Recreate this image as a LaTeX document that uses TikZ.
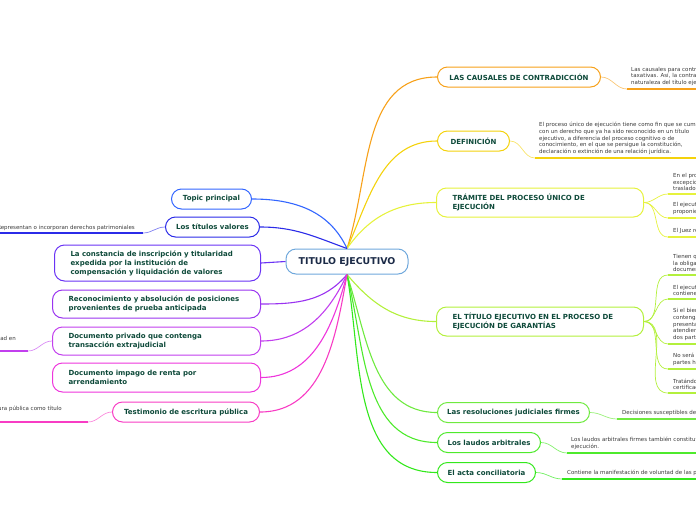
\documentclass[tikz,border=0pt]{standalone}
\usepackage{fontspec}
\setmainfont{DejaVu Sans}

\definecolor{rootblue}{HTML}{6FA8DC}
\definecolor{roottext}{HTML}{1B2A47}
\definecolor{nodetext}{HTML}{0E4A3A}
\definecolor{notetext}{HTML}{3A3A3A}
\definecolor{cOrange}{HTML}{F7A11A}
\definecolor{cGold}{HTML}{F4D20C}
\definecolor{cYellow}{HTML}{E6F23C}
\definecolor{cLime}{HTML}{B3F03C}
\definecolor{cGreenA}{HTML}{6FEA40}
\definecolor{cGreenB}{HTML}{4EEA2C}
\definecolor{cGreenC}{HTML}{33E81C}
\definecolor{cBlue}{HTML}{3366FF}
\definecolor{cDeepBlue}{HTML}{2B2BE8}
\definecolor{cIndigo}{HTML}{6A33F5}
\definecolor{cViolet}{HTML}{9A33F0}
\definecolor{cOrchid}{HTML}{C23FEE}
\definecolor{cMagenta}{HTML}{EE35DC}
\definecolor{cPink}{HTML}{F83CC4}

\begin{document}
\begin{tikzpicture}[x=1pt, y=1pt,
    topic/.style={draw, rounded corners=10, fill=white, line width=1pt, text=nodetext,
        font=\fontsize{7}{9}\selectfont\bfseries, inner xsep=0pt, inner ysep=0pt, minimum height=20},
    multi/.style={topic, align=left, inner xsep=16pt},
    conn/.style={line width=1.1pt},
    subconn/.style={line width=0.7pt},
    uline/.style={line width=1.6pt},
    note/.style={font=\fontsize{5.5}{6.7}\selectfont, text=notetext, inner sep=0pt, align=left}]
    \useasboundingbox (0,0) rectangle (696,-520);
    \clip (0,0) rectangle (696,-520);

    % central topic
    \node[topic, draw=rootblue, minimum width=122, minimum height=25, text=roottext,
        font=\fontsize{9.4}{11}\selectfont\bfseries] (root) at (347,-261.5) {TITULO EJECUTIVO};

    % right branches
    \node[topic, draw=cOrange, anchor=west, minimum width=163] (causal) at (437,-77) {LAS CAUSALES DE CONTRADICCIÓN};
    \node[topic, draw=cGold, anchor=west, minimum width=72] (defin) at (437,-141) {DEFINICIÓN};
    \node[multi, draw=cYellow, anchor=west, text width=175, minimum height=29] (tramite) at (436,-202.5)
        {TRÁMITE DEL PROCESO ÚNICO DE\\EJECUCIÓN};
    \node[multi, draw=cLime, anchor=west, text width=175, minimum height=29] (titulo) at (436,-321.5)
        {EL TÍTULO EJECUTIVO EN EL PROCESO DE\\EJECUCIÓN DE GARANTÍAS};
    \node[topic, draw=cGreenA, anchor=west, minimum width=152] (resol) at (437,-412.5) {Las resoluciones judiciales firmes};
    \node[topic, draw=cGreenB, anchor=west, minimum width=103] (laudos) at (437,-442.5) {Los laudos arbitrales};
    \node[topic, draw=cGreenC, anchor=west, minimum width=98] (acta) at (437,-472.5) {El acta conciliatoria};

    % left branches
    \node[topic, draw=cBlue, anchor=east, minimum width=80] (principal) at (252,-199) {Topic principal};
    \node[topic, draw=cDeepBlue, anchor=east, minimum width=94] (valores) at (260,-227) {Los títulos valores};
    \node[multi, draw=cIndigo, anchor=east, text width=174, minimum height=36] (constancia) at (261,-263)
        {La constancia de inscripción y titularidad\\expedida por la institución de\\compensación y liquidación de valores};
    \node[multi, draw=cViolet, anchor=east, text width=176, minimum height=28] (reconoc) at (261,-304)
        {Reconocimiento y absolución de posiciones\\provenientes de prueba anticipada};
    \node[multi, draw=cOrchid, anchor=east, text width=176, minimum height=28] (docpriv) at (261,-341)
        {Documento privado que contenga\\transacción extrajudicial};
    \node[multi, draw=cMagenta, anchor=east, text width=176, minimum height=29] (impago) at (261,-377.5)
        {Documento impago de renta por\\arrendamiento};
    \node[topic, draw=cPink, anchor=east, minimum width=147] (testim) at (260,-412) {Testimonio de escritura pública};

    % connectors from the centre
    \draw[conn, cOrange] (root.north) to[out=72, in=180] (causal.west);
    \draw[conn, cGold] (root.north) to[out=66, in=180] (defin.west);
    \draw[conn, cYellow] (root.north) to[out=55, in=180] (tramite.west);
    \draw[conn, cLime] (root.south) to[out=-50, in=180] (titulo.west);
    \draw[conn, cGreenA] (root.south) to[out=-72, in=180] (resol.west);
    \draw[conn, cGreenB] (root.south) to[out=-76, in=180] (laudos.west);
    \draw[conn, cGreenC] (root.south) to[out=-80, in=180] (acta.west);
    \draw[conn, cBlue] (root.north) to[out=115, in=0] (principal.east);
    \draw[conn, cDeepBlue] (root.north) to[out=160, in=0] (valores.east);
    \draw[conn, cIndigo] (root.west) -- (constancia.east);
    \draw[conn, cViolet] (root.south) to[out=-130, in=0] (reconoc.east);
    \draw[conn, cOrchid] (root.south) to[out=-115, in=0] (docpriv.east);
    \draw[conn, cMagenta] (root.south) to[out=-105, in=0] (impago.east);
    \draw[conn, cPink] (root.south) to[out=-100, in=0] (testim.east);

    % notes on the right
    \coordinate (causalu) at (627,-89);
    \draw[subconn, cOrange!60] (causal.east) to[out=0, in=180] (causalu);
    \draw[uline, cOrange] (causalu) -- ++(80,0);
    \node[note, anchor=south west] (causaltxt) at (631,-86)
        {Las causales para contradecir\\taxativas. Así, la contradicción\\naturaleza del título ejecutivo};

    \coordinate (definu) at (535,-158);
    \draw[subconn, cGold!60] (defin.east) to[out=0, in=180] (definu);
    \draw[uline, cGold] (definu) -- ++(170,0);
    \node[note, anchor=south west] (defintxt) at (539,-155)
        {El proceso único de ejecución tiene como fin que se cumpla\\con un derecho que ya ha sido reconocido en un título\\ejecutivo, a diferencia del proceso cognitivo o de\\conocimiento, en el que se persigue la constitución,\\declaración o extinción de una relación jurídica.};

    \coordinate (tramu1) at (668,-194);
    \coordinate (tramu2) at (668,-218);
    \coordinate (tramu3) at (668,-237);
    \foreach \u in {tramu1,tramu2,tramu3}{
        \draw[subconn, cYellow] (tramite.east) to[out=0, in=180] (\u);
        \draw[uline, cYellow] (\u) -- ++(40,0);
    }
    \node[note, anchor=south west] (tramtxt1) at (673,-191) {En el proceso\\excepciones\\traslado};
    \node[note, anchor=south west] (tramtxt2) at (673,-215) {El ejecutado\\proponiendo};
    \node[note, anchor=south west] (tramtxt3) at (673,-234) {El Juez resolverá};

    \coordinate (titu1) at (668,-275);
    \coordinate (titu2) at (668,-299);
    \coordinate (titu3) at (668,-344);
    \coordinate (titu4) at (668,-369);
    \coordinate (titu5) at (668,-393);
    \foreach \u in {titu1,titu2,titu3,titu4,titu5}{
        \draw[subconn, cLime] (titulo.east) to[out=0, in=180] (\u);
        \draw[uline, cLime] (\u) -- ++(40,0);
    }
    \node[note, anchor=south west] (tittxt1) at (673,-272) {Tienen que\\la obligación\\documento};
    \node[note, anchor=south west] (tittxt2) at (673,-296) {El ejecutante\\contiene};
    \node[note, anchor=south west] (tittxt3) at (673,-341) {Si el bien\\contenga\\presenta\\atendiendo\\dos partes};
    \node[note, anchor=south west] (tittxt4) at (673,-366) {No será\\partes hayan};
    \node[note, anchor=south west] (tittxt5) at (673,-390) {Tratándose\\certificado};

    \coordinate (resolu) at (617,-419);
    \draw[subconn, cGreenA!70] (resol.east) to[out=0, in=180] (resolu);
    \draw[uline, cGreenA] (resolu) -- ++(90,0);
    \node[note, anchor=south west] (resoltxt) at (622,-416) {Decisiones susceptibles de ejecución};

    \coordinate (laudosu) at (567,-453);
    \draw[subconn, cGreenB!70] (laudos.east) to[out=0, in=180] (laudosu);
    \draw[uline, cGreenB] (laudosu) -- ++(140,0);
    \node[note, anchor=south west] (laudostxt) at (571,-450)
        {Los laudos arbitrales firmes también constituyen título\\ejecución.};

    \coordinate (actau) at (562,-479);
    \draw[subconn, cGreenC!70] (acta.east) to[out=0, in=180] (actau);
    \draw[uline, cGreenC] (actau) -- ++(140,0);
    \node[note, anchor=south west] (actatxt) at (567,-476) {Contiene la manifestación de voluntad de las partes};

    % notes on the left
    \coordinate (valoresu) at (143,-233);
    \draw[subconn, cDeepBlue!60] (valores.west) to[out=180, in=0] (valoresu);
    \draw[uline, cDeepBlue] (valoresu) -- ++(-150,0);
    \node[note, anchor=base east] (valorestxt) at (135,-229) {Representan o incorporan derechos patrimoniales};

    \coordinate (docprivu) at (28,-351);
    \draw[subconn, cOrchid!60] (docpriv.west) to[out=180, in=0] (docprivu);
    \draw[uline, cOrchid] (docprivu) -- ++(-40,0);
    \node[note, anchor=base east] (docprivtxt) at (16,-340) {voluntad en};

    \coordinate (testimu) at (88,-422);
    \draw[subconn, cPink!60] (testim.west) to[out=180, in=0] (testimu);
    \draw[uline, cPink] (testimu) -- ++(-100,0);
    \node[note, anchor=base east] (testimtxt) at (62,-410) {escritura pública como título};
\end{tikzpicture}
\end{document}
